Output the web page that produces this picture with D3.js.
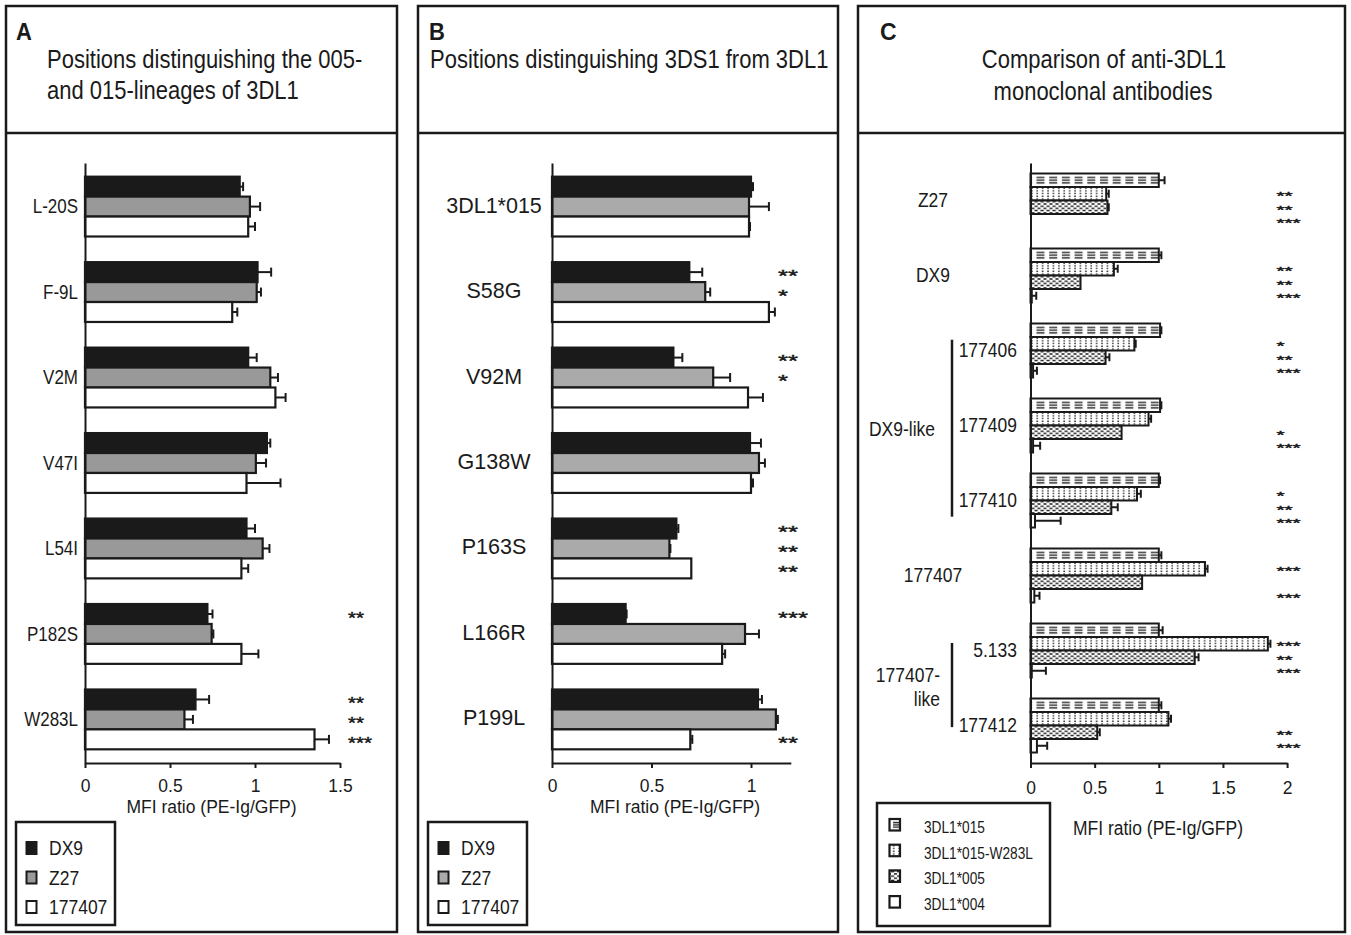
<!DOCTYPE html>
<html><head><meta charset="utf-8">
<script src="https://cdn.jsdelivr.net/npm/d3@7"></script>
<style>
html,body{margin:0;padding:0;background:#fff;}
svg text{font-family:"Liberation Sans",Arial,Helvetica,sans-serif;}
</style></head><body>
<svg id="chart" width="1351" height="935"></svg>
<script>
// ---------------- DATA ----------------
// Panel A
const categoriesA = ['L-20S','F-9L','V2M','V47I','L54I','P182S','W283L'];
const seriesNamesAB = ['DX9','Z27','177407'];
const valuesA_DX9    = [0.91, 1.015, 0.96, 1.07, 0.95, 0.72, 0.65];
const errA_DX9       = [0.02, 0.08, 0.05, 0.02, 0.05, 0.03, 0.08];
const valuesA_Z27    = [0.97, 1.01, 1.09, 1.005, 1.045, 0.745, 0.585];
const errA_Z27       = [0.06, 0.025, 0.045, 0.06, 0.04, 0.01, 0.05];
const valuesA_177407 = [0.96, 0.866, 1.12, 0.95, 0.92, 0.92, 1.35];
const errA_177407    = [0.04, 0.03, 0.06, 0.2, 0.04, 0.1, 0.085];
const starsA_DX9     = ['','','','','','**','**'];
const starsA_Z27     = ['','','','','','','**'];
const starsA_177407  = ['','','','','','','***'];
const ticksA = [0, 0.5, 1, 1.5];

// Panel B
const categoriesB = ['3DL1*015','S58G','V92M','G138W','P163S','L166R','P199L'];
const valuesB_DX9    = [1.0, 0.69, 0.61, 0.995, 0.625, 0.37, 1.035];
const errB_DX9       = [0.01, 0.065, 0.045, 0.055, 0.01, 0.005, 0.02];
const valuesB_Z27    = [0.99, 0.77, 0.81, 1.04, 0.59, 0.97, 1.125];
const errB_Z27       = [0.1, 0.025, 0.085, 0.03, 0.005, 0.07, 0.01];
const valuesB_177407 = [0.99, 1.09, 0.985, 1.0, 0.70, 0.855, 0.695];
const errB_177407    = [0.005, 0.03, 0.075, 0.01, 0, 0.015, 0.01];
const starsB_DX9     = ['','**','**','','**','***',''];
const starsB_Z27     = ['','*','*','','**','',''];
const starsB_177407  = ['','','','','**','','**'];
const ticksB = [0, 0.5, 1];

// Panel C
const categoriesC = ['Z27','DX9','177406','177409','177410','177407','5.133','177412'];
const seriesNamesC = ['3DL1*015','3DL1*015-W283L','3DL1*005','3DL1*004'];
const valuesC_015   = [1.0, 1.0, 1.01, 1.01, 1.0, 1.0, 1.0, 1.0];
const errC_015      = [0.045, 0.02, 0.01, 0.01, 0.01, 0.02, 0.03, 0.02];
const valuesC_W283L = [0.59, 0.65, 0.81, 0.92, 0.83, 1.36, 1.85, 1.075];
const errC_W283L    = [0.02, 0.03, 0.01, 0.02, 0.03, 0.02, 0.02, 0.02];
const valuesC_005   = [0.6, 0.39, 0.585, 0.71, 0.63, 0.87, 1.28, 0.52];
const errC_005      = [0.01, 0, 0.03, 0, 0.05, 0, 0.03, 0.02];
const valuesC_004   = [0, 0.01, 0.02, 0.02, 0.035, 0.03, 0.01, 0.05];
const errC_004      = [0, 0.035, 0.03, 0.055, 0.2, 0.04, 0.11, 0.08];
const starsC_015    = ['','','','','','','',''];
const starsC_W283L  = ['**','**','*','','*','***','***',''];
const starsC_005    = ['**','**','**','*','**','','**','**'];
const starsC_004    = ['***','***','***','***','***','***','***','***'];
const ticksC = [0, 0.5, 1, 1.5, 2];
const groupsC = [
  {lines:['DX9-like'], members:['177406','177409','177410']},
  {lines:['177407-','like'], members:['5.133','177412']}
];

// ---------------- DRAWING ----------------
const INK = '#1a1a1a';
const svg = d3.select('#chart');
const defs = svg.append('defs');

function txt(g, x, y, s, o = {}) {
  const fs = o.fs || 17.5, sx = o.sx || 1, sy = (o.sy == null ? 1.15 : o.sy);
  return g.append('text')
    .attr('transform', `translate(${x},${y}) scale(${sx},${sy})`)
    .attr('font-size', fs)
    .attr('text-anchor', o.anchor || 'start')
    .attr('font-weight', o.weight || 'normal')
    .attr('fill', INK)
    .text(s);
}

// significance stars: compact font so stacked rows do not collide
function star(g, x, cy, s, st) {
  txt(g, x, cy + 0.59 * st.fs, s, {fs: st.fs, sx: st.sx, sy: 1})
    .attr('stroke', INK).attr('stroke-width', st.sw);
}

// Panel frames
const frames = [[6,397],[418,838],[858,1345]];
frames.forEach(([a,b]) => {
  svg.append('rect').attr('x',a).attr('y',6).attr('width',b-a).attr('height',926)
    .attr('fill','none').attr('stroke',INK).attr('stroke-width',2.5);
  svg.append('line').attr('x1',a).attr('x2',b).attr('y1',133).attr('y2',133)
    .attr('stroke',INK).attr('stroke-width',2.5);
});

// Headers
txt(svg, 16, 40, 'A', {fs:22, weight:'bold', sy:1.05});
txt(svg, 47, 68, 'Positions distinguishing the 005-', {fs:22, sy:1.18});
txt(svg, 47, 98.5, 'and 015-lineages of 3DL1', {fs:22, sy:1.18});
txt(svg, 429, 40, 'B', {fs:22, weight:'bold', sy:1.05});
txt(svg, 430, 68, 'Positions distinguishing 3DS1 from 3DL1', {fs:22, sy:1.18});
txt(svg, 880, 40, 'C', {fs:23, weight:'bold', sy:1.02});
txt(svg, 1104, 68, 'Comparison of anti-3DL1', {fs:22, sy:1.18, anchor:'middle'});
txt(svg, 1103, 100, 'monoclonal antibodies', {fs:22, sy:1.18, anchor:'middle'});

function styleAxis(ax, labelDy) {
  ax.select('.domain').attr('stroke', INK).attr('stroke-width', 2);
  ax.selectAll('.tick line').attr('stroke', INK).attr('stroke-width', 2);
  ax.selectAll('.tick text').attr('y', 0).attr('dy', null)
    .attr('transform', `translate(0,${labelDy}) scale(1,1.06)`)
    .attr('font-size', 17.5).attr('fill', INK)
    .attr('font-family', '"Liberation Sans",Arial,sans-serif');
}

function drawPanelAB(cfg) {
  const g = svg.append('g');
  const x = d3.scaleLinear().domain([0, cfg.xmax]).range([cfg.x0, cfg.x0 + cfg.xmax * cfg.unit]);
  const y = d3.scaleBand().domain(cfg.cats).range([163, 763]).paddingInner(0.3).paddingOuter(0.16);
  const ys = d3.scaleBand().domain(cfg.series.map((s, i) => i)).range([0, y.bandwidth()]);
  cfg.cats.forEach((c, ci) => {
    cfg.series.forEach((s, si) => {
      const v = s.values[ci], e = s.err[ci];
      const by = y(c) + ys(si), bh = ys.bandwidth(), cy = by + bh / 2;
      g.append('rect').attr('x', x(0)).attr('y', by).attr('width', x(v) - x(0)).attr('height', bh)
        .attr('fill', s.fill).attr('stroke', INK).attr('stroke-width', 2.2);
      if (e > 0) {
        g.append('line').attr('x1', x(v)).attr('x2', x(v + e)).attr('y1', cy).attr('y2', cy)
          .attr('stroke', INK).attr('stroke-width', 2);
        g.append('line').attr('x1', x(v + e)).attr('x2', x(v + e)).attr('y1', cy - 4.5).attr('y2', cy + 4.5)
          .attr('stroke', INK).attr('stroke-width', 2);
      }
      if (s.stars[ci]) star(g, cfg.starX, cy, s.stars[ci], cfg.starStyle);
    });
  });
  const yax = g.append('g').attr('transform', `translate(${x(0)},0)`)
    .call(d3.axisLeft(y).tickSize(0).tickSizeOuter(0).tickFormat(''));
  yax.select('.domain').attr('stroke', INK).attr('stroke-width', 2);
  yax.selectAll('.tick').remove();
  const xax = g.append('g').attr('transform', 'translate(0,763)')
    .call(d3.axisBottom(x).tickValues(cfg.ticks).tickSize(5).tickSizeOuter(0).tickFormat(d => String(d)));
  styleAxis(xax, 29);
  cfg.cats.forEach(c => {
    txt(g, cfg.labelX, y(c) + y.bandwidth() / 2 + cfg.labelDy, c, {fs: cfg.labelFs, sy: cfg.labelSy, anchor: cfg.labelAnchor});
  });
  txt(g, cfg.titleX, 813, 'MFI ratio (PE-Ig/GFP)', {fs: 17.5, sy: 1.0, anchor: 'middle'});
  // legend
  const lx = cfg.legendX;
  g.append('rect').attr('x', lx).attr('y', 822).attr('width', 99).attr('height', 103)
    .attr('fill', 'none').attr('stroke', INK).attr('stroke-width', 2.5);
  cfg.series.forEach((s, si) => {
    g.append('rect').attr('x', lx + 10.5).attr('y', 842 + si * 29.5).attr('width', 10).attr('height', 12)
      .attr('fill', s.fill).attr('stroke', INK).attr('stroke-width', 2);
    txt(g, lx + 33, 855 + si * 29.5, s.name, {fs: 17.5, sy: 1.2});
  });
}

drawPanelAB({
  cats: categoriesA, xmax: 1.5, x0: 85, unit: 170, ticks: ticksA,
  series: [
    {name: seriesNamesAB[0], values: valuesA_DX9, err: errA_DX9, stars: starsA_DX9, fill: INK},
    {name: seriesNamesAB[1], values: valuesA_Z27, err: errA_Z27, stars: starsA_Z27, fill: '#999999'},
    {name: seriesNamesAB[2], values: valuesA_177407, err: errA_177407, stars: starsA_177407, fill: '#ffffff'}
  ],
  starX: 348, starStyle: {fs: 16.5, sx: 1.25, sw: 0.4},
  labelX: 78, labelAnchor: 'end', labelFs: 17, labelSy: 1.15, labelDy: 6.7,
  titleX: 211.5, legendX: 16
});

drawPanelAB({
  cats: categoriesB, xmax: 1.2, x0: 552, unit: 199, ticks: ticksB,
  series: [
    {name: seriesNamesAB[0], values: valuesB_DX9, err: errB_DX9, stars: starsB_DX9, fill: INK},
    {name: seriesNamesAB[1], values: valuesB_Z27, err: errB_Z27, stars: starsB_Z27, fill: '#aaaaaa'},
    {name: seriesNamesAB[2], values: valuesB_177407, err: errB_177407, stars: starsB_177407, fill: '#ffffff'}
  ],
  starX: 778, starStyle: {fs: 16.5, sx: 1.55, sw: 0.4},
  labelX: 494, labelAnchor: 'middle', labelFs: 21.5, labelSy: 1.0, labelDy: 6,
  titleX: 675, legendX: 428
});

// ---------------- Panel C ----------------
let patCount = 0;
function makePattern(kind, ox, oy, h) {
  if (kind === 'white') return '#ffffff';
  const id = 'pat' + (patCount++);
  const p = defs.append('pattern').attr('id', id).attr('patternUnits', 'userSpaceOnUse')
    .attr('x', ox).attr('y', oy);
  if (kind === 'dash') {
    p.attr('width', 12.7).attr('height', h);
    p.append('rect').attr('width', 12.7).attr('height', h).attr('fill', '#fff');
    [0.3, 0.5, 0.7].forEach(f => p.append('rect').attr('x', 2).attr('y', f * h - 0.65)
      .attr('width', 8).attr('height', 1.3).attr('fill', INK));
  } else if (kind === 'dot') {
    p.attr('width', 5.4).attr('height', 2.7);
    p.append('rect').attr('width', 5.4).attr('height', 2.7).attr('fill', '#fff');
    p.append('rect').attr('x', 2).attr('y', 0.5).attr('width', 1.5).attr('height', 1.3).attr('fill', INK);
  } else if (kind === 'brick') {
    p.attr('width', 6).attr('height', 4.4);
    p.append('rect').attr('width', 6).attr('height', 4.4).attr('fill', '#fff');
    p.append('rect').attr('x', 0).attr('y', 0.6).attr('width', 3.2).attr('height', 1.4).attr('fill', INK);
    p.append('rect').attr('x', 3).attr('y', 2.8).attr('width', 3.2).attr('height', 1.4).attr('fill', INK);
  }
  return `url(#${id})`;
}

(function drawPanelC() {
  const g = svg.append('g');
  const x = d3.scaleLinear().domain([0, 2]).range([1030.5, 1030.5 + 2 * 128.3]);
  const y = d3.scaleBand().domain(categoriesC).range([163, 763]).paddingInner(0.28).paddingOuter(0.14);
  const ys = d3.scaleBand().domain(d3.range(4)).range([0, y.bandwidth()]);
  const series = [
    {name: seriesNamesC[0], values: valuesC_015, err: errC_015, stars: starsC_015, kind: 'dash'},
    {name: seriesNamesC[1], values: valuesC_W283L, err: errC_W283L, stars: starsC_W283L, kind: 'dot'},
    {name: seriesNamesC[2], values: valuesC_005, err: errC_005, stars: starsC_005, kind: 'brick'},
    {name: seriesNamesC[3], values: valuesC_004, err: errC_004, stars: starsC_004, kind: 'white'}
  ];
  const starStyleC = {fs: 11.2, sx: 1.85, sw: 0.4};
  categoriesC.forEach((c, ci) => {
    series.forEach((s, si) => {
      const v = s.values[ci], e = s.err[ci];
      const by = y(c) + ys(si), bh = ys.bandwidth(), cy = by + bh / 2;
      g.append('rect').attr('x', x(0)).attr('y', by).attr('width', x(v) - x(0)).attr('height', bh)
        .attr('fill', makePattern(s.kind, x(0) + 4, by, bh)).attr('stroke', INK).attr('stroke-width', 2);
      if (e > 0) {
        g.append('line').attr('x1', x(v)).attr('x2', x(v + e)).attr('y1', cy).attr('y2', cy)
          .attr('stroke', INK).attr('stroke-width', 2);
        g.append('line').attr('x1', x(v + e)).attr('x2', x(v + e)).attr('y1', cy - 4).attr('y2', cy + 4)
          .attr('stroke', INK).attr('stroke-width', 2);
      }
      if (s.stars[ci]) star(g, 1276.5, cy, s.stars[ci], starStyleC);
    });
  });
  const yax = g.append('g').attr('transform', `translate(${x(0)},0)`)
    .call(d3.axisLeft(y).tickSize(0).tickSizeOuter(0).tickFormat(''));
  yax.select('.domain').attr('stroke', INK).attr('stroke-width', 2);
  yax.selectAll('.tick').remove();
  const xax = g.append('g').attr('transform', 'translate(0,763)')
    .call(d3.axisBottom(x).tickValues(ticksC).tickSize(5).tickSizeOuter(0).tickFormat(d => String(d)));
  styleAxis(xax, 31);
  txt(g, 1158, 835, 'MFI ratio (PE-Ig/GFP)', {fs: 17.5, sy: 1.15, anchor: 'middle'});

  // category labels
  const grouped = new Set(groupsC.flatMap(gr => gr.members));
  categoriesC.forEach(c => {
    const cy = y(c) + y.bandwidth() / 2;
    if (grouped.has(c)) txt(g, 1017, cy + 6.5, c, {fs: 17.5, sy: 1.2, anchor: 'end'});
    else txt(g, 933, cy + 6.5, c, {fs: 17.5, sy: 1.2, anchor: 'middle'});
  });
  // group brackets
  const bracketOffsets = [[0.3, 0.8], [0.36, 0.53]];
  groupsC.forEach((gr, gi) => {
    const first = gr.members[0], last = gr.members[gr.members.length - 1];
    const y1 = y(first) + bracketOffsets[gi][0] * y.bandwidth();
    const y2 = y(last) + bracketOffsets[gi][1] * y.bandwidth();
    g.append('line').attr('x1', 952).attr('x2', 952).attr('y1', y1).attr('y2', y2)
      .attr('stroke', INK).attr('stroke-width', 2.5);
    const mid = (y1 + y2) / 2;
    if (gr.lines.length === 1) {
      txt(g, 902, mid + 8, gr.lines[0], {fs: 17.5, sy: 1.2, anchor: 'middle'});
    } else {
      gr.lines.forEach((l, li) => txt(g, 940, mid - 3 + li * 23.5, l, {fs: 17.5, sy: 1.2, anchor: 'end'}));
    }
  });

  // legend
  g.append('rect').attr('x', 877).attr('y', 803).attr('width', 173).attr('height', 123)
    .attr('fill', 'none').attr('stroke', INK).attr('stroke-width', 2.5);
  series.forEach((s, si) => {
    const ly = 819 + si * 25.7;
    g.append('rect').attr('x', 889.5).attr('y', ly).attr('width', 10.5).attr('height', 11.5)
      .attr('fill', makePattern(s.kind, 891, ly, 11.5)).attr('stroke', INK).attr('stroke-width', 2.2);
    txt(g, 924, 833 + si * 25.7, s.name, {fs: 13.7, sy: 1.2});
  });
})();
</script>
</body></html>
